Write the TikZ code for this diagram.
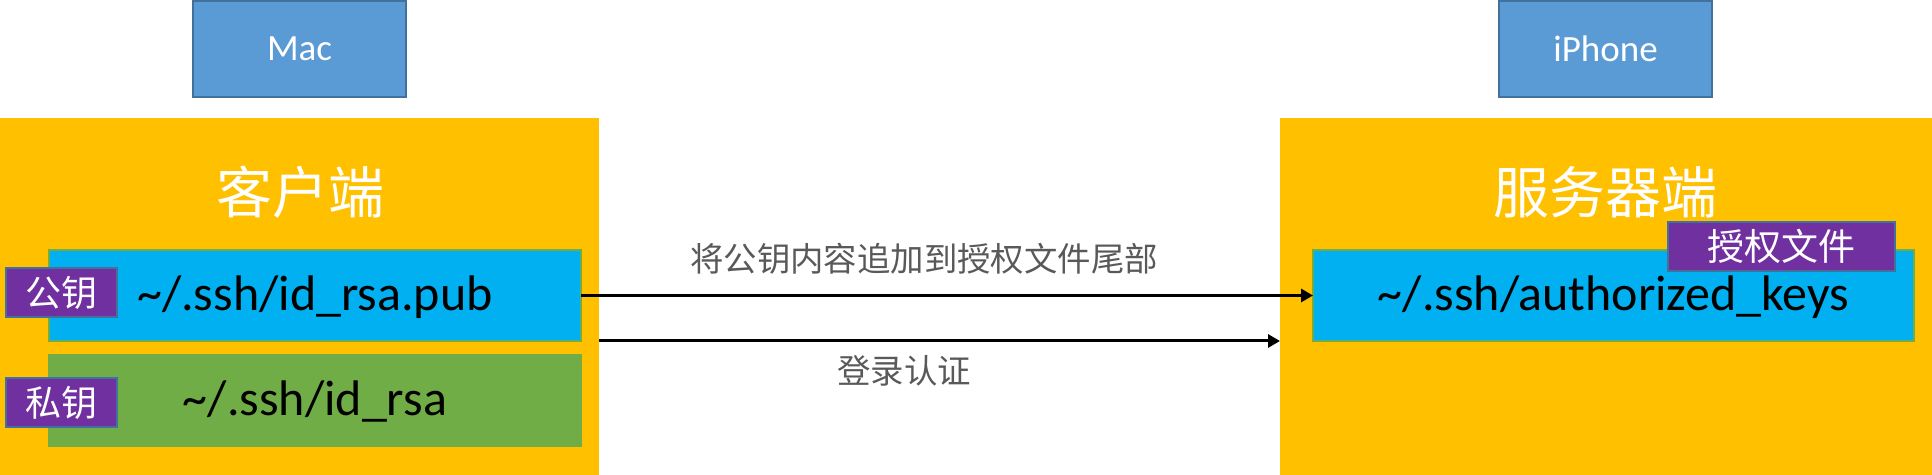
\documentclass[tikz,border=0pt]{standalone}
\usepackage{fontspec}
\setmainfont{Carlito}
\newfontfamily\cjk{Noto Sans CJK SC}
\usepackage{tikz}
\usetikzlibrary{arrows.meta}
\definecolor{hostblue}{HTML}{5B9BD5}
\definecolor{hostedge}{HTML}{41719C}
\definecolor{sideyellow}{HTML}{FFC000}
\definecolor{filecyan}{HTML}{00B0F0}
\definecolor{filegreen}{HTML}{70AD47}
\definecolor{tagpurple}{HTML}{7030A0}
\definecolor{notegray}{HTML}{595959}

\begin{document}
\begin{tikzpicture}[x=0.5pt,y=-0.5pt,
    box/.style={anchor=north west,inner sep=0pt,outer sep=0pt},
    host/.style={box,draw=hostedge,line width=0.8pt,fill=hostblue,text=white,
      minimum width=106.5pt,minimum height=48pt,font=\fontsize{18.5}{22}\selectfont},
    side/.style={box,fill=sideyellow,minimum height=178.5pt},
    keyfile/.style={box,draw=filegreen,line width=0.6pt,minimum height=45.5pt,
      text depth=2pt,font=\fontsize{25}{30}\selectfont},
    tag/.style={box,draw=hostedge,line width=0.8pt,fill=tagpurple,text=white,
      minimum height=24.5pt,font=\cjk\fontsize{18}{22}\selectfont},
    title/.style={text=white,font=\cjk\fontsize{28}{32}\selectfont},
    note/.style={text=notegray,font=\cjk\fontsize{16.7}{20}\selectfont},
    link/.style={line width=1.5pt,-{Triangle[length=6pt,width=6.5pt]}}]
            \useasboundingbox (0,0) rectangle (1932,475);
            \node [host] (mac) at (193,1) {Mac};
            \node [host] (iphone) at (1499,1) {iPhone};
            \node [side,minimum width=299.5pt] (client) at (0,118) {};
            \node [side,minimum width=326pt] (server) at (1280,118) {};
          \node [title] (clienttitle) at (300,192) {客户端};
          \node [title] (servertitle) at (1605,192) {服务器端};
            \node [keyfile,fill=filecyan,minimum width=266pt] (pub) at (49,250) {\textasciitilde/.ssh/id\_rsa.pub};
            \node [keyfile,fill=filegreen,minimum width=266pt] (priv) at (49,355) {\textasciitilde/.ssh/id\_rsa};
            \node [keyfile,fill=filecyan,minimum width=300.5pt] (auth) at (1313,250) {\textasciitilde/.ssh/authorized\_keys};
          \node [tag,minimum width=55.5pt] (pubtag) at (6,268) {公钥};
          \node [tag,minimum width=55.5pt] (privtag) at (6,378) {私钥};
          \node [tag,minimum width=113.5pt,font=\cjk\fontsize{18.5}{22}\selectfont] (authtag) at (1668,222) {授权文件};
            \draw [link] (pub.east) -- (auth.west);
            \draw [link] (client.east |- pub.south) -- (server.west |- pub.south);
          \node [note] (addnote) at (924,259) {将公钥内容追加到授权文件尾部};
          \node [note] (loginnote) at (904,371) {登录认证};
        \end{tikzpicture}
\end{document}
